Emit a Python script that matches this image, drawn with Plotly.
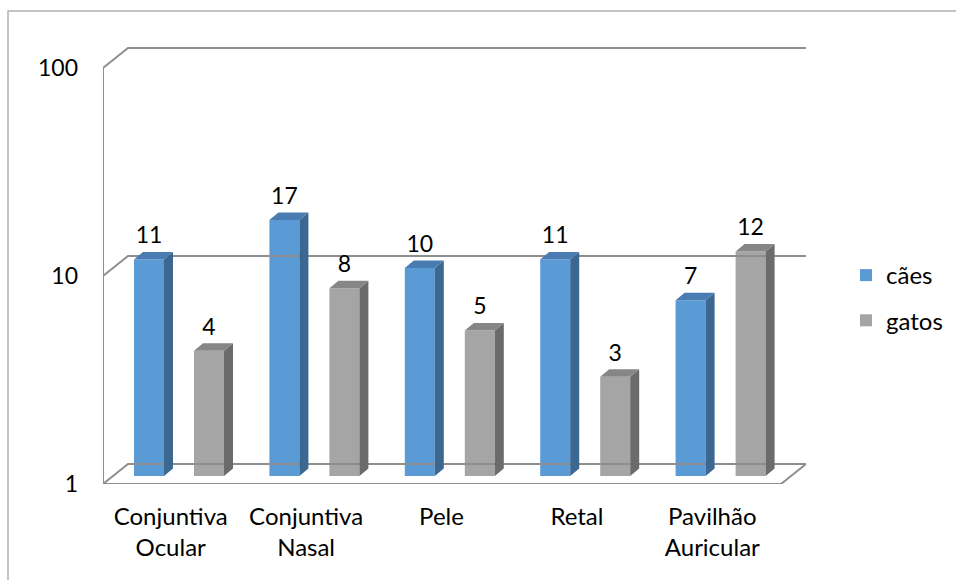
import plotly.graph_objects as go

# ---- data ----
categories = ["Conjuntiva<br>Ocular", "Conjuntiva<br>Nasal", "Pele", "Retal", "Pavilhão<br>Auricular"]
caes = [11, 17, 10, 11, 7]
gatos = [4, 8, 5, 3, 12]
y_ticks = [1, 10, 100]

# ---- geometry (pixels) ----
W, H = 956, 580
PLOT_L, PLOT_R, PLOT_T, PLOT_B = 103, 806, 47, 484
CAT_STEP = 135.4          # px per category on the floor
DECADE = 208.0            # px per decade on the log axis
WALL_DX, WALL_DY = 25, 20  # front edge -> back wall
BAR_PLANE_DX, BAR_PLANE_DY = 8.3, 8  # front edge -> bar front faces
BAR_W, BAR_OFF = 30, 30   # bar width and offset from category centre
BAR_DX, BAR_DY = 9, 7.5   # bar depth

CAES_FRONT, CAES_SIDE, CAES_TOP = "#5B9BD5", "#3B6790", "#497CB0"
GATOS_FRONT, GATOS_SIDE, GATOS_TOP = "#A5A5A5", "#6B6B6B", "#868686"
GRID = "#8E8E8E"
FONT = "Lato"
FS = 24

# bar-plane category centre i sits at x = i
X0_PX = PLOT_L + CAT_STEP * 0.5 + BAR_PLANE_DX


def xu(px_offset):
    return px_offset / CAT_STEP


def x_at(px):
    return (px - X0_PX) / CAT_STEP


def lift(v, px):
    """value v shifted upward by px pixels on the log axis"""
    return v * 10 ** (px / DECADE)


def front(v):
    return lift(v, -BAR_PLANE_DY)


def back(v):
    return lift(v, WALL_DY - BAR_PLANE_DY)


fig = go.Figure()

# ---- walls and floor ----
lx, ly = [], []
xl_front, xl_back, xr_back = x_at(PLOT_L), x_at(PLOT_L + WALL_DX), x_at(PLOT_R)
for v in y_ticks:
    lx += [xl_front, xl_back, xr_back, None]
    ly += [front(v), back(v), back(v), None]
lx += [xl_front, xl_front, None]
ly += [front(y_ticks[0]), front(y_ticks[-1]), None]
xr_front = x_at(PLOT_R - WALL_DX)
lx += [xl_front, xr_front, xr_back, None]
ly += [front(y_ticks[0]), front(y_ticks[0]), back(y_ticks[0]), None]
fig.add_trace(go.Scatter(x=lx, y=ly, mode="lines", line=dict(color=GRID, width=2),
                         hoverinfo="skip", showlegend=False, cliponaxis=False))


def add_series(vals, name, off, c_front, c_side, c_top):
    xs = [i + xu(off) for i in range(len(vals))]
    fig.add_trace(go.Bar(x=xs, y=[v - 1 for v in vals], base=[1] * len(vals),
                         width=xu(BAR_W), name=name, legendgroup=name,
                         marker=dict(color=c_front, line=dict(width=0)),
                         hoverinfo="skip"))
    sx, sy, tx, ty = [], [], [], []
    for x, v in zip(xs, vals):
        xl, xr = x - xu(BAR_W / 2), x + xu(BAR_W / 2)
        d = xu(BAR_DX)
        sx += [xr, xr + d, xr + d, xr, xr, None]
        sy += [1, lift(1, BAR_DY), lift(v, BAR_DY), v, 1, None]
        tx += [xl, xl + d, xr + d, xr, xl, None]
        ty += [v, lift(v, BAR_DY), lift(v, BAR_DY), v, v, None]
    fig.add_trace(go.Scatter(x=sx, y=sy, fill="toself", fillcolor=c_side, mode="none",
                             hoverinfo="skip", showlegend=False))
    fig.add_trace(go.Scatter(x=tx, y=ty, fill="toself", fillcolor=c_top, mode="none",
                             hoverinfo="skip", showlegend=False))
    fig.add_trace(go.Scatter(x=xs, y=[lift(v, BAR_DY + 3) for v in vals], mode="text",
                             text=[str(v) for v in vals], textposition="top center",
                             textfont=dict(family=FONT, size=FS - 1, color="#000000"),
                             hoverinfo="skip", showlegend=False, cliponaxis=False))


add_series(caes, "cães", -BAR_OFF, CAES_FRONT, CAES_SIDE, CAES_TOP)
add_series(gatos, "gatos", BAR_OFF, GATOS_FRONT, GATOS_SIDE, GATOS_TOP)

fig.update_layout(
    template="none",
    width=W, height=H,
    margin=dict(l=0, r=0, t=0, b=0, autoexpand=False),
    paper_bgcolor="white", plot_bgcolor="rgba(0,0,0,0)",
    barmode="overlay",
    font=dict(family=FONT, size=FS, color="#000000"),
    xaxis=dict(domain=[PLOT_L / W, PLOT_R / W], range=[x_at(PLOT_L), x_at(PLOT_R)],
               tickvals=[i - xu(BAR_PLANE_DX) for i in range(len(categories))],
               ticktext=categories, showgrid=False, zeroline=False, showline=False,
               ticks="", ticklabelstandoff=16, automargin=False, fixedrange=True),
    yaxis=dict(type="log", domain=[1 - PLOT_B / H, 1 - PLOT_T / H],
               range=[-BAR_PLANE_DY / DECADE, (PLOT_B - BAR_PLANE_DY - PLOT_T) / DECADE],
               tickvals=[front(v) for v in y_ticks], ticktext=[str(v) for v in y_ticks],
               tickfont=dict(size=FS - 1),
               showgrid=False, zeroline=False, showline=False, ticks="",
               ticklabelstandoff=24, automargin=False, fixedrange=True),
    legend=dict(x=846 / W, y=1 - 253 / H, xanchor="left", yanchor="top",
                font=dict(family=FONT, size=FS), tracegroupgap=11,
                traceorder="grouped", bgcolor="rgba(0,0,0,0)"),
    shapes=[dict(type="rect", xref="paper", yref="paper",
                 x0=8 / W, x1=1.01, y0=-0.01, y1=1 - 11 / H,
                 line=dict(color="#B0B0B0", width=1.5), layer="below")],
)

fig.write_html("out.html")
